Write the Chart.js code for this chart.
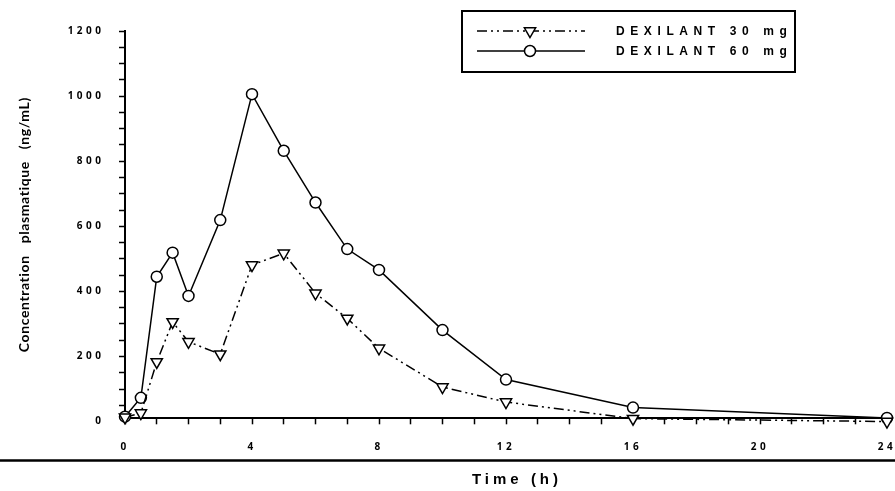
<!DOCTYPE html>
<html>
<head>
<meta charset="utf-8">
<title>DEXILANT - concentration plasmatique</title>
<script src="https://cdn.jsdelivr.net/npm/chart.js@4.4.1/dist/chart.umd.min.js"></script>
<style>
  html, body { margin: 0; padding: 0; background: #fff; }
  #wrap { width: 895px; height: 491px; position: relative; }
</style>
</head>
<body>
<div id="wrap"><canvas id="pkChart"></canvas></div>
<script>
// temps de prelevement (h)
const timePoints = [0, 0.5, 1, 1.5, 2, 3, 4, 5, 6, 7, 8, 10, 12, 16, 24];
// concentrations (ng/mL)
const dose30 = [13, 26, 183, 306, 245, 207, 481, 517, 394, 317, 225, 106, 60, 9, 0];
const dose60 = [15, 73, 445, 519, 386, 619, 1006, 832, 673, 530, 466, 281, 129, 43, 11];
const seriesNames = ["DEXILANT 30 mg", "DEXILANT 60 mg"];
const yTickLabels = [0, 200, 400, 600, 800, 1000, 1200];
const xTickLabels = [0, 4, 8, 12, 16, 20, 24];
const yTitle = "Concentration   plasmatique   (ng/mL)";
const xTitle = "Time (h)";

function toPoints(values) {
  return values.map((v, i) => ({ x: timePoints[i], y: v }));
}

/* ======================================================
   espacement des lettres pour les graduations
====================================================== */
const spacingPlugin = {
  id: "spacing",
  beforeLayout(chart) { chart.ctx.letterSpacing = "3.5px"; },
  beforeDraw(chart) { chart.ctx.letterSpacing = "3.5px"; }
};

/* ======================================================
   titres, trait du bas et legende encadree
====================================================== */
const decorPlugin = {
  id: "decor",
  afterDraw(chart) {
    const ctx = chart.ctx;
    const area = chart.chartArea;
    ctx.save();
    ctx.fillStyle = "#000";
    ctx.strokeStyle = "#000";

    // trait horizontal sous les graduations
    ctx.lineWidth = 2.5;
    ctx.beginPath();
    ctx.moveTo(0, 460.5);
    ctx.lineTo(chart.width, 460.5);
    ctx.stroke();

    // titre axe X
    ctx.font = "bold 15px 'Liberation Sans', Arial, sans-serif";
    ctx.letterSpacing = "4px";
    ctx.textAlign = "center";
    ctx.textBaseline = "middle";
    ctx.fillText(xTitle, 517, 480);

    // titre axe Y
    ctx.save();
    ctx.letterSpacing = "0.6px";
    ctx.font = "bold 14px Lato, sans-serif";
    ctx.translate(24, (area.top + area.bottom) / 2);
    ctx.rotate(-Math.PI / 2);
    ctx.fillText(yTitle, 0, 0);
    ctx.restore();

    // legende
    ctx.lineWidth = 2;
    ctx.strokeRect(462, 11, 333, 61);
    ctx.font = "bold 12px 'Liberation Sans', Arial, sans-serif";
    ctx.letterSpacing = "5.6px";
    ctx.textAlign = "left";
    chart.data.datasets.forEach((ds, i) => {
      const y = 31 + i * 20;
      ctx.save();
      ctx.lineWidth = ds.borderWidth;
      ctx.setLineDash(ds.borderDash || []);
      ctx.beginPath();
      ctx.moveTo(477, y);
      ctx.lineTo(585, y);
      ctx.stroke();
      ctx.setLineDash([]);
      ctx.fillStyle = "#fff";
      ctx.lineWidth = ds.pointBorderWidth;
      Chart.helpers.drawPoint(ctx, {
        pointStyle: ds.pointStyle,
        rotation: ds.pointRotation || 0,
        radius: ds.pointRadius,
        borderWidth: ds.pointBorderWidth
      }, 530, y);
      ctx.restore();
      ctx.fillText(ds.label, 616, y + 1);
    });
    ctx.restore();
  }
};

const tickFont = { family: "'Open Sans'", weight: "bold", size: 10 };

new Chart(document.getElementById("pkChart"), {
  type: "line",
  data: {
    datasets: [
      {
        label: seriesNames[0],
        data: toPoints(dose30),
        borderColor: "#000",
        borderWidth: 1.5,
        borderDash: [10, 4, 2, 4, 2, 4],
        pointStyle: "triangle",
        pointRotation: 180,
        pointRadius: 6.5,
        pointBorderWidth: 1.5,
        pointBackgroundColor: "#fff",
        pointBorderColor: "#000",
        tension: 0,
        clip: false
      },
      {
        label: seriesNames[1],
        data: toPoints(dose60),
        borderColor: "#000",
        borderWidth: 1.5,
        pointStyle: "circle",
        pointRadius: 5.5,
        pointBorderWidth: 1.5,
        pointBackgroundColor: "#fff",
        pointBorderColor: "#000",
        tension: 0,
        clip: false
      }
    ]
  },
  options: {
    responsive: true,
    maintainAspectRatio: false,
    animation: false,
    devicePixelRatio: 1,
    layout: { padding: { top: 31, right: 5.5, bottom: 0, left: 0 } },
    plugins: {
      legend: { display: false },
      tooltip: { enabled: false }
    },
    scales: {
      x: {
        type: "linear",
        min: 0,
        max: 24,
        ticks: {
          stepSize: 1,
          autoSkip: false,
          maxRotation: 0,
          padding: 17,
          color: "#000",
          font: tickFont,
          callback: (v) => (xTickLabels.includes(v) ? String(v) : "")
        },
        grid: { drawOnChartArea: false, tickLength: 6, tickWidth: 1.5, tickColor: "#000" },
        border: { color: "#000", width: 2 },
        afterFit(scale) {
          scale.height = 72.7;
          scale.paddingLeft = 0;
          scale.paddingRight = 0;
        }
      },
      y: {
        min: 10,
        max: 1200,
        afterBuildTicks(scale) {
          const ticks = [];
          for (let v = 0; v <= 1200; v += 50) ticks.push({ value: v });
          scale.ticks = ticks;
        },
        ticks: {
          autoSkip: false,
          padding: 14.5,
          color: "#000",
          font: tickFont,
          callback: (v) => (yTickLabels.includes(v) ? String(v) : "")
        },
        grid: {
          drawOnChartArea: false,
          tickLength: 6,
          tickWidth: 1.5,
          tickColor: (c) => (c.tick && c.tick.value < 10 ? "rgba(0,0,0,0)" : "#000")
        },
        border: { color: "#000", width: 2 },
        afterFit(scale) {
          scale.width = 125;
          scale.paddingTop = 0;
          scale.paddingBottom = 0;
        }
      }
    }
  },
  plugins: [spacingPlugin, decorPlugin]
});
</script>
</body>
</html>
